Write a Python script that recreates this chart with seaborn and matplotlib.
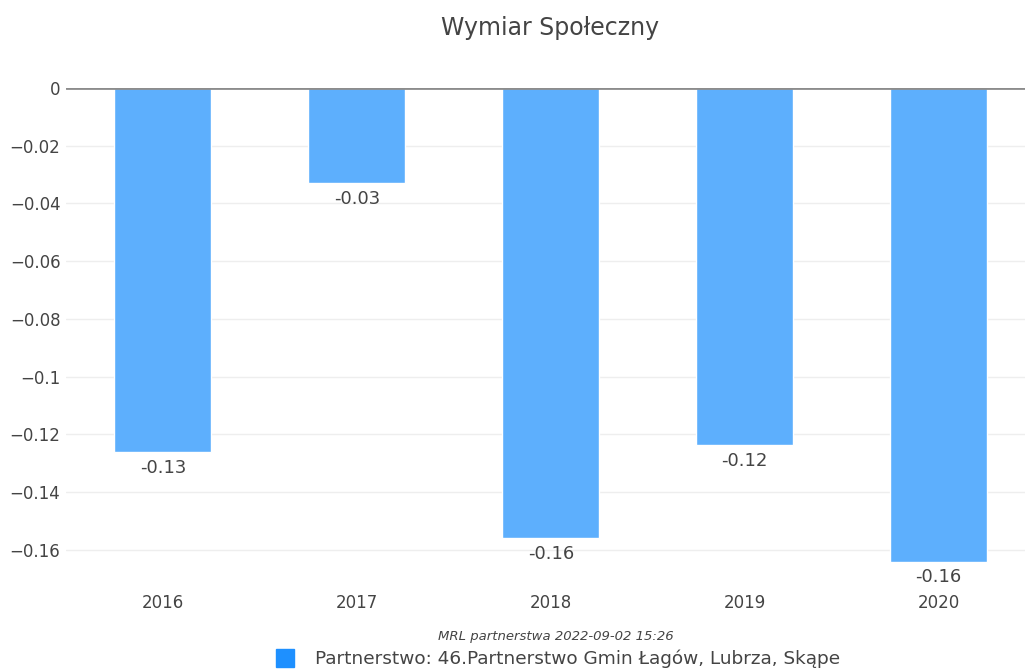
import pandas
import matplotlib
matplotlib.use("Agg")
import matplotlib.pyplot as plt
import seaborn

lata = ["2016", "2017", "2018", "2019", "2020"]
wartosci = [-0.126, -0.033, -0.156, -0.1235, -0.164]
etykiety = ["-0.13", "-0.03", "-0.16", "-0.12", "-0.16"]
y_ticki = [0, -0.02, -0.04, -0.06, -0.08, -0.1, -0.12, -0.14, -0.16]
y_ticki_txt = ["0", "\u22120.02", "\u22120.04", "\u22120.06", "\u22120.08",
               "\u22120.1", "\u22120.12", "\u22120.14", "\u22120.16"]
nazwa = "Partnerstwo: 46.Partnerstwo Gmin Łagów, Lubrza, Skąpe"

seaborn.set_style("white")
plt.rcParams["font.family"] = ["DejaVu Sans"]
plt.rcParams["font.sans-serif"] = ["DejaVu Sans"]
tekst = "#444444"

data = pandas.DataFrame({"rok": lata, "wartosc": wartosci})

fig = plt.figure(figsize=(10.25, 6.7), dpi=100)
ax = fig.add_axes([0.0644, 0.1425, 0.946, 0.7262])

seaborn.barplot(data=data, x="rok", y="wartosc", color="#5daffd", width=0.5,
                saturation=1, ax=ax, zorder=2)

ax.set_ylim(-0.1685, 0)
ax.set_xlim(-0.5, 4.5)
ax.set_yticks(y_ticki)
ax.set_yticklabels(y_ticki_txt)
ax.grid(axis="y", color="#eeeeee", linewidth=1, zorder=0)
ax.axhline(0, color="#8c8c8c", linewidth=2, zorder=3)
for s in ax.spines.values():
    s.set_visible(False)
ax.tick_params(axis="both", length=0, labelsize=12, colors=tekst)
ax.tick_params(axis="y", pad=4)
ax.tick_params(axis="x", pad=14)
ax.set_xlabel("")
ax.set_ylabel("")

for i, (w, t) in enumerate(zip(wartosci, etykiety)):
    ax.annotate(t, (i, w), xytext=(0, -5), textcoords="offset points",
                ha="center", va="top", fontsize=13, color=tekst)

fig.text(0.537, 0.958, "Wymiar Społeczny", ha="center", va="center",
         fontsize=17, color=tekst)
fig.text(0.542, 0.05, "MRL partnerstwa 2022-09-02 15:26", ha="center",
         va="center", fontsize=9.5, style="italic", color=tekst)
fig.patches.append(plt.Rectangle((0.269, 0.004), 0.0175, 0.027,
                                 transform=fig.transFigure, color="#1e90ff"))
fig.text(0.307, 0.017, nazwa, ha="left", va="center", fontsize=13.3,
         color=tekst)

fig.savefig("out.png", dpi=100)
